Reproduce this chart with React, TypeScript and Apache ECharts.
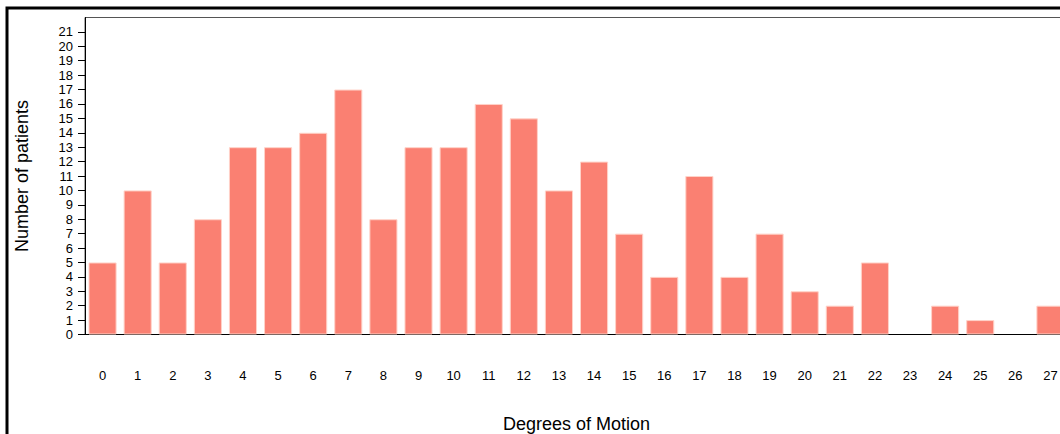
import React, { useEffect, useRef } from "react";
import * as echarts from "echarts";

const categories: string[] = [
  "0","1","2","3","4","5","6","7","8","9","10","11","12","13",
  "14","15","16","17","18","19","20","21","22","23","24","25","26","27",
];
const patients: number[] = [
  5, 10, 5, 8, 13, 13, 14, 17, 8, 13, 13, 16, 15, 10,
  12, 7, 4, 11, 4, 7, 3, 2, 5, 0, 2, 1, 0, 2,
];
const yTicks: number[] = [
  0, 1, 2, 3, 4, 5, 6, 7, 8, 9, 10, 11, 12, 13, 14, 15, 16, 17, 18, 19, 20, 21,
];
const xTitle = "Degrees of Motion";
const yTitle = "Number of patients";

const FONT = "'Liberation Sans', Arial, sans-serif";

export default function App() {
  const ref = useRef<HTMLDivElement>(null);
  useEffect(() => {
    if (!ref.current) return;
    const chart = echarts.init(ref.current, undefined, { renderer: "svg" });
    chart.setOption({
      animation: false,
      backgroundColor: "#ffffff",
      textStyle: { fontFamily: FONT, color: "#000" },
      graphic: [
        {
          type: "rect",
          shape: { x: 7, y: 8, width: 1300, height: 600 },
          style: { fill: "none", stroke: "#000", lineWidth: 3 },
          silent: true,
        },
      ],
      grid: {
        left: 85,
        top: 17.5,
        width: 983,
        height: 317,
        show: true,
        borderColor: "#555",
        borderWidth: 1,
        backgroundColor: "transparent",
        containLabel: false,
        outerBoundsMode: "none",
      },
      xAxis: {
        type: "category",
        data: categories,
        name: xTitle,
        nameLocation: "middle",
        nameGap: 80,
        nameTextStyle: { fontFamily: FONT, fontSize: 18, color: "#000" },
        axisLine: { show: true, lineStyle: { color: "#000", width: 1 } },
        axisTick: { show: false },
        axisLabel: { margin: 34, fontFamily: FONT, fontSize: 13, color: "#000" },
        splitLine: { show: false },
      },
      yAxis: {
        type: "value",
        min: 0,
        max: 22,
        interval: 1,
        name: yTitle,
        nameLocation: "middle",
        nameGap: 54,
        nameRotate: 90,
        nameTextStyle: { fontFamily: FONT, fontSize: 18, color: "#000" },
        axisLine: { show: true, lineStyle: { color: "#000", width: 1 } },
        axisTick: {
          show: true,
          length: 7,
          customValues: yTicks,
          lineStyle: { color: "#000" },
        },
        axisLabel: {
          margin: 12,
          fontFamily: FONT,
          fontSize: 13,
          color: "#000",
          customValues: yTicks,
        },
        splitLine: { show: false },
      },
      series: [
        {
          type: "bar",
          data: patients.map((v) =>
            v === 0 ? { value: v, itemStyle: { borderWidth: 0 } } : v
          ),
          barWidth: "80%",
          itemStyle: {
            color: "#FA8072",
            borderColor: "#FFD2C8",
            borderWidth: 1,
          },
        },
      ],
    });
    return () => chart.dispose();
  }, []);
  return (
    <div
      ref={ref}
      style={{ position: "fixed", left: 0, top: 0, width: 1100, height: 434 }}
    />
  );
}
